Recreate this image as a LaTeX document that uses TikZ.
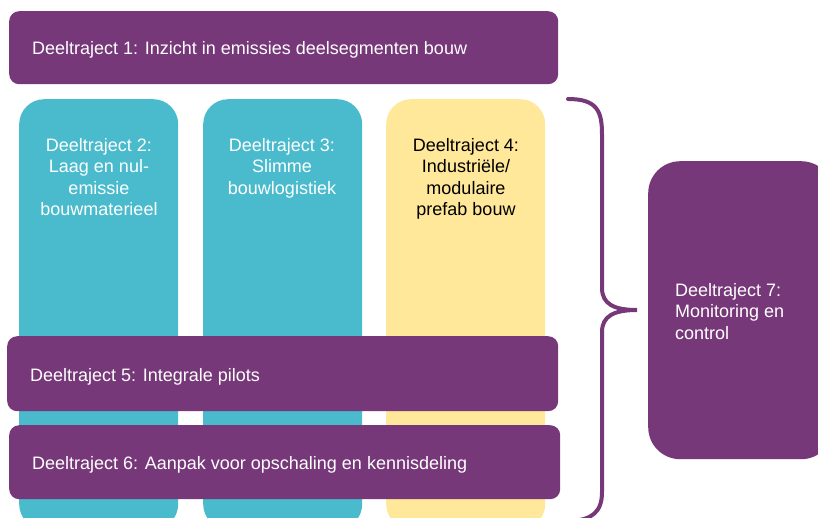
\documentclass[tikz,border=0pt]{standalone}
\usepackage{fontspec}
\setmainfont{Liberation Sans}
\definecolor{dpurple}{RGB}{119,56,121}
\definecolor{dteal}{RGB}{73,187,204}
\definecolor{dyellow}{RGB}{255,232,153}
\begin{document}
\begin{tikzpicture}[x=1pt,y=-1pt,
  bar/.style={fill=dpurple, rounded corners=10pt, inner sep=0pt, anchor=north west},
  colbox/.style={rounded corners=25pt, inner sep=0pt, anchor=north west, minimum width=159pt, minimum height=430pt},
  lbl/.style={font=\fontsize{18}{21.5}\selectfont, text=white, inner sep=0pt},
  bracestyle/.style={draw=dpurple, line width=4pt, line cap=round}]
\clip (0,0) rectangle (818,517);
% columns
\node[colbox, fill=dteal] (c2) at (19,99) {};
\node[colbox, fill=dteal] (c3) at (203,99) {};
\node[colbox, fill=dyellow] (c4) at (386,99) {};
% bars
\node[bar, minimum width=549pt, minimum height=73pt] (d1) at (9,11) {};
\node[bar, minimum width=551pt, minimum height=75pt] (d5) at (7,336) {};
\node[bar, minimum width=551pt, minimum height=74pt] (d6) at (9,425) {};
\node[bar, rounded corners=32pt, minimum width=185pt, minimum height=298pt] (d7) at (648,161) {};
% labels
\node[lbl, anchor=base west] (t1) at (32,54) {Deeltraject 1: Inzicht in emissies deelsegmenten bouw};
\node[lbl, align=center, anchor=north] (t2) at (99,138) {Deeltraject 2:\\Laag en nul-\\emissie\\bouwmaterieel};
\node[lbl, align=center, anchor=north] (t3) at (282,138) {Deeltraject 3:\\Slimme\\bouwlogistiek};
\node[lbl, align=center, anchor=north, text=black] (t4) at (466,138) {Deeltraject 4:\\Industriële/\\modulaire\\prefab bouw};
\node[lbl, anchor=base west] (t5) at (30,381) {Deeltraject 5: Integrale pilots};
\node[lbl, anchor=base west] (t6) at (32,469) {Deeltraject 6: Aanpak voor opschaling en kennisdeling};
\node[lbl, align=left, anchor=north west] (t7) at (675,283) {Deeltraject 7:\\Monitoring en\\control};
% brace
\path[bracestyle] (568,99) .. controls (598,99) and (602,112) .. (602,135) -- (602,288)
  .. controls (602,304) and (614,310) .. (637,310)
  .. controls (614,310) and (602,316) .. (602,332) -- (602,492)
  .. controls (602,512) and (592,520) .. (570,521);
\end{tikzpicture}
\end{document}
